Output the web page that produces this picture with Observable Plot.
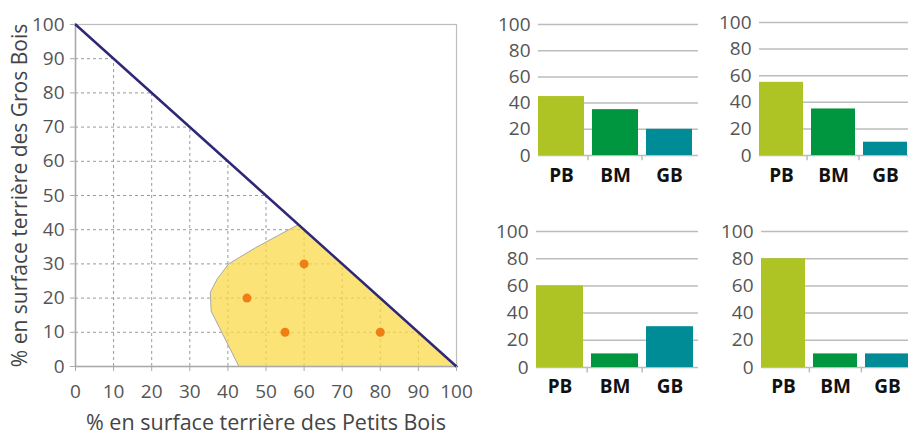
<!DOCTYPE html>
<html>
<head>
<meta charset="utf-8">
<script src="https://cdn.jsdelivr.net/npm/d3@7"></script>
<script src="https://cdn.jsdelivr.net/npm/@observablehq/plot@0.6"></script>
<style>
  html, body { margin: 0; padding: 0; background: #fff; }
  #wrap { position: relative; width: 908px; height: 435px; overflow: hidden; background: #fff; }
  #wrap > div { position: absolute; }
  #wrap svg { overflow: visible; max-width: none !important; }
</style>
</head>
<body>
<div id="wrap">
  <div id="main" style="left:0;top:0;width:470px"></div>
  <div id="b1" style="left:500px;top:0;width:208px"></div>
  <div id="b2" style="left:720px;top:0;width:198px"></div>
  <div id="b3" style="left:500px;top:200px;width:208px"></div>
  <div id="b4" style="left:720px;top:200px;width:198px"></div>
</div>
<script>
// ---- data ----
const axisTicks = [0, 10, 20, 30, 40, 50, 60, 70, 80, 90, 100];
const gridValues = [10, 20, 30, 40, 50, 60, 70, 80, 90];
const xTitle = "% en surface terrière des Petits Bois";
const yTitle = "% en surface terrière des Gros Bois";
// envelope polygon (PB %, GB %)
const envelopePB = [58.5, 47.2, 40.2, 37.2, 35.4, 35.6, 42.9, 100, 58.5];
const envelopeGB = [41.5, 34.7, 30, 25.6, 21.7, 16.2, 0, 0, 41.5];
// stands (PB %, GB %)
const standPB = [45, 55, 60, 80];
const standGB = [20, 10, 30, 10];
// bar charts
const categories = ["PB", "BM", "GB"];
const barTicks = [0, 20, 40, 60, 80, 100];
const bars1 = [45, 35, 20];
const bars2 = [55, 35, 10];
const bars3 = [60, 10, 30];
const bars4 = [80, 10, 10];
const catColors = ["#adc424", "#00963f", "#008c97"];

const FONT = "'Open Sans', 'DejaVu Sans', sans-serif";

// ---- main chart ----
const envelope = envelopePB.map((x, i) => ({x, y: envelopeGB[i]}));
const stands = standPB.map((x, i) => ({x, y: standGB[i]}));
const diagonal = [{x: 0, y: 100}, {x: 100, y: 0}];

const main = Plot.plot({
  width: 470,
  height: 435,
  marginLeft: 75,
  marginRight: 14,
  marginTop: 24,
  marginBottom: 69,
  style: {fontFamily: FONT, fontSize: "19px", color: "#555", background: "transparent", maxWidth: "none"},
  x: {domain: [0, 100]},
  y: {domain: [0, 100]},
  marks: [
    Plot.ruleY(gridValues, {y: d => d, x1: 0, x2: d => 100 - d, stroke: "#9a9a9a", strokeWidth: 1, strokeDasharray: "3,3"}),
    Plot.ruleX(gridValues, {x: d => d, y1: 0, y2: d => 100 - d, stroke: "#9a9a9a", strokeWidth: 1, strokeDasharray: "3,3"}),
    Plot.line(envelope, {x: "x", y: "y", fill: "#fbd949", fillOpacity: 0.75, stroke: "#a8a8a8", strokeWidth: 1, curve: "linear"}),
    Plot.frame({stroke: "#bdbdbd", strokeWidth: 1.2}),
    Plot.ruleY([0], {stroke: "#aaaaaa", strokeWidth: 1.5}),
    Plot.ruleX([0], {stroke: "#aaaaaa", strokeWidth: 1.5}),
    Plot.line(diagonal, {x: "x", y: "y", stroke: "#2d2878", strokeWidth: 2.5}),
    Plot.dot(stands, {x: "x", y: "y", r: 4.5, fill: "#f07e12", stroke: "none"}),
    Plot.axisX({ticks: axisTicks, tickSize: 5, tickPadding: 13, stroke: "#aaaaaa", fill: "#555", label: null, fontSize: 19, tickFormat: d => String(d)}),
    Plot.axisY({ticks: axisTicks, tickSize: 5, tickPadding: 6, stroke: "#aaaaaa", fill: "#555", label: null, fontSize: 19, tickFormat: d => String(d)}),
    Plot.text([xTitle], {frameAnchor: "bottom", dy: 63, fontSize: 21.5, fill: "#444", textAnchor: "middle", text: d => d}),
    Plot.text([yTitle], {frameAnchor: "left", dx: -55, rotate: -90, fontSize: 21, fill: "#444", textAnchor: "middle", text: d => d})
  ]
});
document.getElementById("main").appendChild(main);

// ---- bar charts ----
function barChart(values, {width, height, ml, mr, mt, mb, catPad}) {
  const rows = categories.map((c, i) => ({cat: c, value: values[i], color: catColors[i]}));
  const pad = 0.15, outer = 0.03;
  const step = (width - ml - mr) / (categories.length - pad + 2 * outer);
  return Plot.plot({
    width, height,
    marginLeft: ml, marginRight: mr, marginTop: mt, marginBottom: mb,
    style: {fontFamily: FONT, fontSize: "19px", color: "#555", background: "transparent", overflow: "visible", maxWidth: "none"},
    x: {domain: categories, padding: pad, paddingOuter: outer, align: 0},
    y: {domain: [0, 100]},
    marks: [
      Plot.ruleY(barTicks, {y: d => d, stroke: "#bcbcbc", strokeWidth: 1.5}),
      Plot.barY(rows, {x: "cat", y: "value", fill: "color"}),
      Plot.ruleX(categories.slice(1), {x: d => d, y1: 0, y2: -4, dx: -step / 2, stroke: "#bcbcbc", strokeWidth: 1.5}),
      Plot.axisY({ticks: barTicks, tickSize: 0, tickPadding: 8, fill: "#555", label: null, fontSize: 19}),
      Plot.axisX({tickSize: 0, tickPadding: catPad, fill: "#111", fontWeight: "bold", fontSize: 19, label: null})
    ]
  });
}

document.getElementById("b1").appendChild(barChart(bars1, {width: 208, height: 190, ml: 38, mr: 10, mt: 24, mb: 35, catPad: 13}));
document.getElementById("b2").appendChild(barChart(bars2, {width: 198, height: 190, ml: 39, mr: 5, mt: 22, mb: 35, catPad: 13}));
document.getElementById("b3").appendChild(barChart(bars3, {width: 208, height: 200, ml: 36, mr: 10, mt: 31, mb: 33, catPad: 12}));
document.getElementById("b4").appendChild(barChart(bars4, {width: 198, height: 200, ml: 41, mr: 5, mt: 31, mb: 33, catPad: 12}));
</script>
</body>
</html>
